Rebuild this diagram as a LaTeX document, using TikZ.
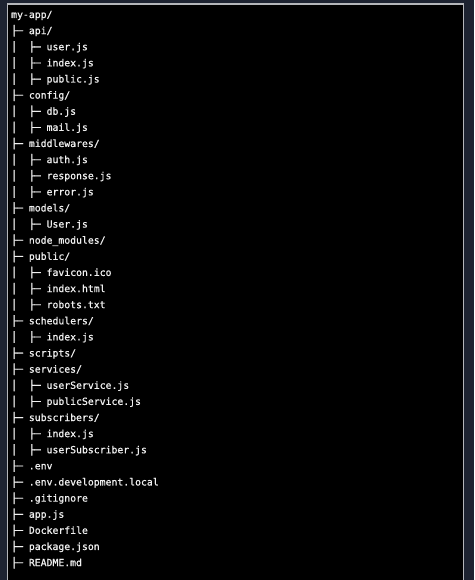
\documentclass[tikz,border=0pt]{standalone}
\usepackage{fontspec}
\setmonofont{DejaVu Sans Mono}[BoldFont = DejaVu Sans Mono, BoldFeatures = {FakeBold = 0.8}]

\definecolor{termbg}{HTML}{1D2331}
\definecolor{termframe}{HTML}{B4B6BA}
\definecolor{termtext}{HTML}{F0F0F0}

\tikzset{
	row/.style = {anchor = base west, inner sep = 0pt, text = termtext,
		font = \ttfamily\bfseries\fontsize{9.8}{12}\selectfont}
}

\begin{document}
\begin{tikzpicture}[x = 1pt, y = -16.12pt]

	\useasboundingbox (0pt, 0pt) rectangle (474pt, -580pt);
	\fill[termbg] (0pt, 0pt) rectangle (474pt, -580pt);
	\filldraw[draw = termframe, fill = black, line width = 1.3pt] (7.5pt, -4pt) rectangle (463.5pt, -600pt);

	\begin{scope}[yshift = -18pt]
		\node[row] (root) at (11, 0) {my-app/};
		\node[row] (api) at (11, 1) {├─\ api/};
		\node[row] (apiuser) at (11, 2) {│\ \ ├─\ user.js};
		\node[row] (apiindex) at (11, 3) {│\ \ ├─\ index.js};
		\node[row] (apipublic) at (11, 4) {│\ \ ├─\ public.js};
		\node[row] (config) at (11, 5) {├─\ config/};
		\node[row] (configdb) at (11, 6) {│\ \ ├─\ db.js};
		\node[row] (configmail) at (11, 7) {│\ \ ├─\ mail.js};
		\node[row] (mw) at (11, 8) {├─\ middlewares/};
		\node[row] (mwauth) at (11, 9) {│\ \ ├─\ auth.js};
		\node[row] (mwresponse) at (11, 10) {│\ \ ├─\ response.js};
		\node[row] (mwerror) at (11, 11) {│\ \ ├─\ error.js};
		\node[row] (models) at (11, 12) {├─\ models/};
		\node[row] (modelsuser) at (11, 13) {│\ \ ├─\ User.js};
		\node[row] (nodemodules) at (11, 14) {├─\ node\_modules/};
		\node[row] (public) at (11, 15) {├─\ public/};
		\node[row] (favicon) at (11, 16) {│\ \ ├─\ favicon.ico};
		\node[row] (indexhtml) at (11, 17) {│\ \ ├─\ index.html};
		\node[row] (robots) at (11, 18) {│\ \ ├─\ robots.txt};
		\node[row] (sched) at (11, 19) {├─\ schedulers/};
		\node[row] (schedindex) at (11, 20) {│\ \ ├─\ index.js};
		\node[row] (scripts) at (11, 21) {├─\ scripts/};
		\node[row] (services) at (11, 22) {├─\ services/};
		\node[row] (userservice) at (11, 23) {│\ \ ├─\ userService.js};
		\node[row] (publicservice) at (11, 24) {│\ \ ├─\ publicService.js};
		\node[row] (subs) at (11, 25) {├─\ subscribers/};
		\node[row] (subsindex) at (11, 26) {│\ \ ├─\ index.js};
		\node[row] (usersub) at (11, 27) {│\ \ ├─\ userSubscriber.js};
		\node[row] (env) at (11, 28) {├─\ .env};
		\node[row] (envdev) at (11, 29) {├─\ .env.development.local};
		\node[row] (gitignore) at (11, 30) {├─\ .gitignore};
		\node[row] (appjs) at (11, 31) {├─\ app.js};
		\node[row] (docker) at (11, 32) {├─\ Dockerfile};
		\node[row] (package) at (11, 33) {├─\ package.json};
		\node[row] (readme) at (11, 34) {├─\ README.md};
	\end{scope}

\end{tikzpicture}
\end{document}
